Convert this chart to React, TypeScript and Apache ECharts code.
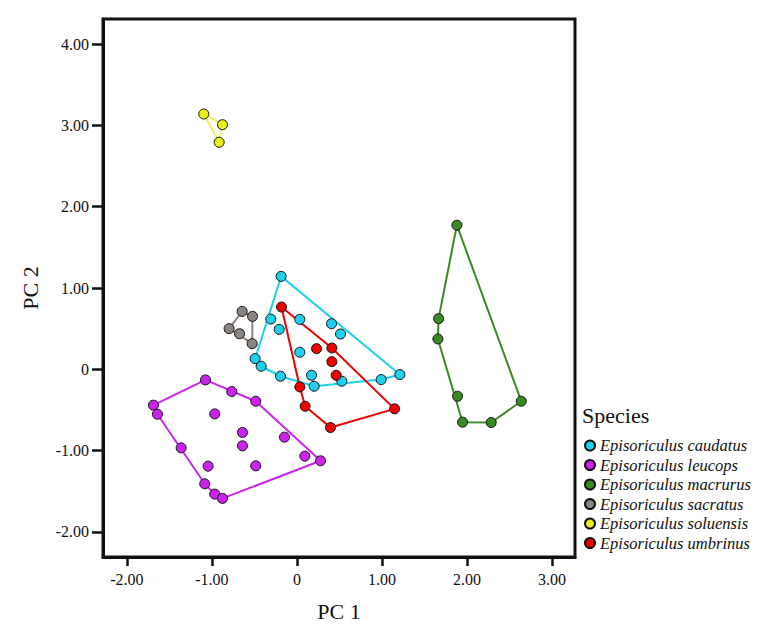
import React, { useEffect, useRef } from "react";
import * as echarts from "echarts";

const speciesNames = [
  "Episoriculus caudatus",
  "Episoriculus leucops",
  "Episoriculus macrurus",
  "Episoriculus sacratus",
  "Episoriculus soluensis",
  "Episoriculus umbrinus",
];

const speciesColors = ["#1ED0EE", "#CC22EE", "#3A8A22", "#8C8480", "#E8F018", "#EE0000"];
const hullColors = ["#1ED0EE", "#CC22EE", "#3A8A22", "#8C8480", "#EEF060", "#EE0000"];

const caudatus = [
  [-0.185, 1.143], [-0.307, 0.618], [-0.208, 0.491], [0.034, 0.614], [0.407, 0.561],
  [0.513, 0.434], [0.034, 0.209], [-0.491, 0.131], [-0.42, 0.037], [-0.193, -0.086],
  [0.172, -0.074], [0.203, -0.209], [0.528, -0.147], [0.991, -0.127], [1.211, -0.065],
];
const leucops = [
  [-1.075, -0.131], [-0.766, -0.274], [-0.484, -0.393], [-1.687, -0.442], [-1.64, -0.553],
  [-0.966, -0.549], [-0.64, -0.778], [-0.64, -0.942], [-0.146, -0.835], [-1.361, -0.967],
  [0.093, -1.069], [0.278, -1.126], [-1.044, -1.192], [-0.484, -1.188], [-1.084, -1.409],
  [-0.966, -1.536], [-0.875, -1.589],
];
const macrurus = [
  [1.881, 1.773], [1.666, 0.623], [1.658, 0.373], [1.889, -0.332], [2.638, -0.393],
  [1.948, -0.651], [2.285, -0.655],
];
const sacratus = [
  [-0.644, 0.712], [-0.522, 0.651], [-0.797, 0.5], [-0.675, 0.438], [-0.526, 0.315],
];
const soluensis = [[-1.095, 3.141], [-0.875, 3.01], [-0.914, 2.793]];
const umbrinus = [
  [-0.181, 0.766], [0.231, 0.254], [0.411, 0.262], [0.411, 0.094], [0.462, -0.074],
  [0.034, -0.217], [0.097, -0.455], [0.395, -0.717], [1.148, -0.487],
];

const speciesData = [caudatus, leucops, macrurus, sacratus, soluensis, umbrinus];
const xTickValues = [-2, -1, 0, 1, 2, 3];
const yTickValues = [-2, -1, 0, 1, 2, 3, 4];

function convexHull(points: number[][]): number[][] {
  const pts = points.slice().sort((a, b) => (a[0] === b[0] ? a[1] - b[1] : a[0] - b[0]));
  if (pts.length < 3) return pts.concat([pts[0]]);
  const cross = (o: number[], a: number[], b: number[]) =>
    (a[0] - o[0]) * (b[1] - o[1]) - (a[1] - o[1]) * (b[0] - o[0]);
  const lower: number[][] = [];
  for (const p of pts) {
    while (lower.length >= 2 && cross(lower[lower.length - 2], lower[lower.length - 1], p) <= 0) lower.pop();
    lower.push(p);
  }
  const upper: number[][] = [];
  for (let i = pts.length - 1; i >= 0; i--) {
    const p = pts[i];
    while (upper.length >= 2 && cross(upper[upper.length - 2], upper[upper.length - 1], p) <= 0) upper.pop();
    upper.push(p);
  }
  upper.pop();
  lower.pop();
  const hull = lower.concat(upper);
  return hull.concat([hull[0]]);
}

const FONT = "'Liberation Serif', 'Times New Roman', serif";

export default function App() {
  const ref = useRef<HTMLDivElement>(null);
  useEffect(() => {
    if (!ref.current) return;
    const chart = echarts.init(ref.current, null, { renderer: "svg" });
    const fmt = (v: number) => (v === 0 ? "0" : v.toFixed(2));
    const hullSeries = speciesNames.map((name, i) => ({
      name: name + " hull",
      type: "line",
      data: convexHull(speciesData[i]),
      showSymbol: false,
      symbol: "none",
      silent: true,
      z: 1,
      lineStyle: { color: hullColors[i], width: 2 },
      itemStyle: { color: hullColors[i] },
    }));
    const pointSeries = speciesNames.map((name, i) => ({
      name,
      type: "scatter",
      data: speciesData[i],
      symbol: "circle",
      symbolSize: 10,
      z: 3,
      itemStyle: { color: speciesColors[i], borderColor: "#111", borderWidth: 1, opacity: 1 },
    }));
    chart.setOption({
      animation: false,
      backgroundColor: "#ffffff",
      title: {
        text: "Species",
        left: 582,
        top: 404,
        textStyle: { fontFamily: FONT, fontSize: 22, fontWeight: "normal", color: "#111" },
        padding: 0,
      },
      legend: {
        data: speciesNames,
        orient: "vertical",
        left: 584,
        top: 437,
        padding: 0,
        itemWidth: 10,
        itemHeight: 10,
        itemGap: 2.5,
        icon: "circle",
        textStyle: { fontFamily: FONT, fontSize: 16.5, fontStyle: "italic", color: "#111" },
      },
      grid: {
        left: 103,
        right: 199,
        top: 19,
        bottom: 86,
        show: true,
        borderColor: "#111",
        borderWidth: 3,
        backgroundColor: "#ffffff",
      },
      xAxis: {
        type: "value",
        min: -2.28,
        max: 3.27,
        name: "PC 1",
        nameLocation: "middle",
        nameGap: 43,
        nameTextStyle: { fontFamily: FONT, fontSize: 22, color: "#111" },
        splitLine: { show: false },
        axisLine: { show: true, onZero: false, lineStyle: { color: "#111", width: 3 } },
        axisTick: { show: true, length: 9, customValues: xTickValues, lineStyle: { color: "#111", width: 2.5 } },
        axisLabel: {
          customValues: xTickValues,
          formatter: fmt,
          fontFamily: FONT,
          fontSize: 16,
          color: "#111",
          margin: 14,
        },
      },
      yAxis: {
        type: "value",
        min: -2.31,
        max: 4.31,
        name: "PC 2",
        nameLocation: "middle",
        nameGap: 62,
        nameRotate: 90,
        nameTextStyle: { fontFamily: FONT, fontSize: 22, color: "#111" },
        splitLine: { show: false },
        axisLine: { show: true, onZero: false, lineStyle: { color: "#111", width: 3 } },
        axisTick: { show: true, length: 11, customValues: yTickValues, lineStyle: { color: "#111", width: 2.5 } },
        axisLabel: {
          customValues: yTickValues,
          formatter: fmt,
          fontFamily: FONT,
          fontSize: 16,
          color: "#111",
          margin: 14,
        },
      },
      series: [...hullSeries, ...pointSeries],
    });
    return () => chart.dispose();
  }, []);
  return (
    <div
      ref={ref}
      style={{ position: "fixed", left: 0, top: 0, width: 774, height: 643, background: "#fff" }}
    />
  );
}
